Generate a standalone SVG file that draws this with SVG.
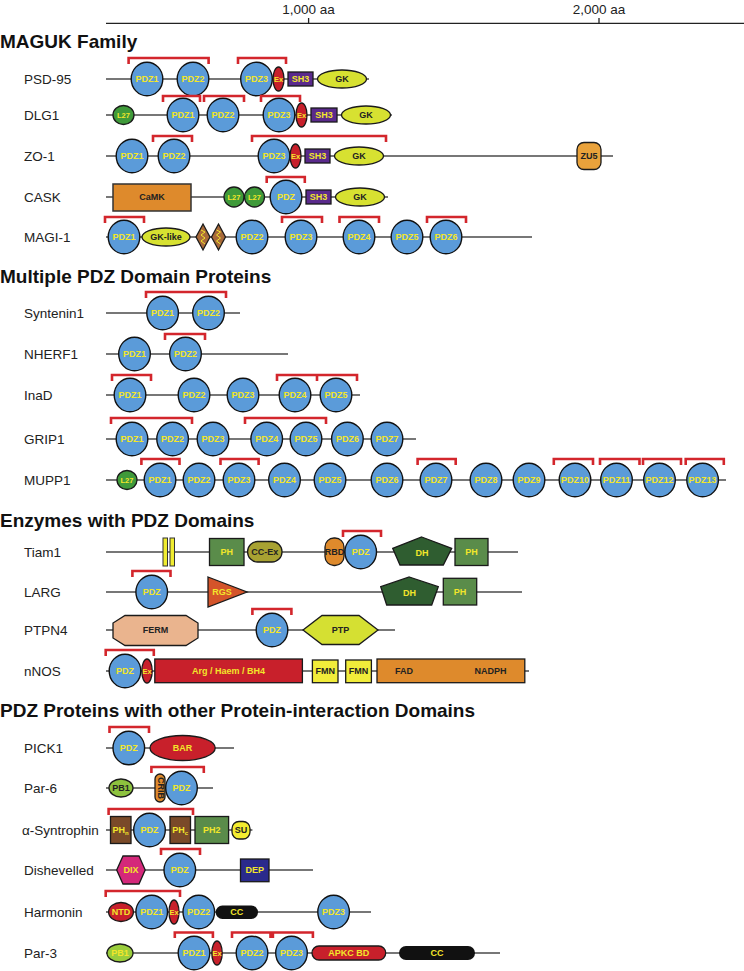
<svg xmlns="http://www.w3.org/2000/svg" width="744" height="971" viewBox="0 0 744 971">
<style>
.bb{stroke:#4a4a4a;stroke-width:1.6;fill:none}
.br{fill:none;stroke:#d3262c;stroke-width:2.6}
.pdz{fill:#5b9bd9;stroke:#111;stroke-width:1.4}
.sk{stroke:#1a1a1a;stroke-width:1.3}
.lbl{font-family:"Liberation Sans",Arial,sans-serif;font-size:13.5px;fill:#222}
.ttl{font-family:"Liberation Sans",Arial,sans-serif;font-size:19px;font-weight:bold;fill:#111}
.ax{font-family:"Liberation Sans",Arial,sans-serif;font-size:13.5px;fill:#222;text-anchor:middle}
.t{font-family:"Liberation Sans",Arial,sans-serif;font-size:9px;font-weight:bold;text-anchor:middle;fill:#f2e62a}
.s{font-size:7.5px}
.k{fill:#222}
.red{fill:#c8202b}
.sh3{fill:#5a2a8c}
.gk{fill:#d7e131}
.l27{fill:#3f9a3a}
.ph{fill:#5a8c4a}
.or{fill:#de8a2c}
</style>

<g id="axis">
<line x1="106" y1="23.3" x2="744" y2="23.3" stroke="#222" stroke-width="1.3"/>
<line x1="308.6" y1="18" x2="308.6" y2="23.3" stroke="#222" stroke-width="1.3"/>
<line x1="599" y1="18" x2="599" y2="23.3" stroke="#222" stroke-width="1.3"/>
<text class="ax" x="308.6" y="13.5">1,000 aa</text>
<text class="ax" x="599" y="13.5">2,000 aa</text>
</g>

<text class="ttl" x="0" y="48">MAGUK Family</text>
<text class="ttl" x="0" y="283">Multiple PDZ Domain Proteins</text>
<text class="ttl" x="0" y="527">Enzymes with PDZ Domains</text>
<text class="ttl" x="0" y="717">PDZ Proteins with other Protein-interaction Domains</text>

<!-- PSD-95 -->
<g id="psd95">
<text class="lbl" x="24" y="84">PSD-95</text>
<line class="bb" x1="106" y1="79" x2="369" y2="79"/>
<path class="br" d="M128.6 64V58H208.6V64M238 64V58H286V64"/>
<ellipse class="pdz" cx="147" cy="79" rx="15.8" ry="16.8"/><text class="t" x="147" y="82.2">PDZ1</text>
<ellipse class="pdz" cx="193" cy="79" rx="15.8" ry="16.8"/><text class="t" x="193" y="82.2">PDZ2</text>
<ellipse class="pdz" cx="256.5" cy="79" rx="15.8" ry="16.8"/><text class="t" x="256.5" y="82.2">PDZ3</text>
<ellipse class="red sk" cx="278.5" cy="79" rx="5.5" ry="12"/><text class="t s" x="278.5" y="81.7">Ex</text>
<rect class="sh3 sk" x="288" y="72" width="25" height="14"/><text class="t" x="300.5" y="82">SH3</text>
<ellipse class="gk sk" cx="342" cy="79" rx="24.5" ry="9"/><text class="t k" x="342" y="82.2">GK</text>
</g>

<!-- DLG1 -->
<g id="dlg1">
<text class="lbl" x="24" y="120">DLG1</text>
<line class="bb" x1="106" y1="115" x2="392" y2="115"/>
<path class="br" d="M163 102V96H200V102M204 102V96H244V102M261 102V96H300V102"/>
<ellipse class="l27 sk" cx="123.5" cy="115" rx="10.5" ry="9.5"/><text class="t s" x="123.5" y="117.7">L27</text>
<ellipse class="pdz" cx="183" cy="115" rx="15.8" ry="16.8"/><text class="t" x="183" y="118.2">PDZ1</text>
<ellipse class="pdz" cx="223" cy="115" rx="15.8" ry="16.8"/><text class="t" x="223" y="118.2">PDZ2</text>
<ellipse class="pdz" cx="279" cy="115" rx="15.8" ry="16.8"/><text class="t" x="279" y="118.2">PDZ3</text>
<ellipse class="red sk" cx="301.5" cy="115" rx="5.5" ry="12"/><text class="t s" x="301.5" y="117.7">Ex</text>
<rect class="sh3 sk" x="311" y="108" width="26" height="14"/><text class="t" x="324" y="118">SH3</text>
<ellipse class="gk sk" cx="366" cy="115" rx="24.5" ry="9"/><text class="t k" x="366" y="118.2">GK</text>
</g>

<!-- ZO-1 -->
<g id="zo1">
<text class="lbl" x="24" y="161">ZO-1</text>
<line class="bb" x1="106" y1="156" x2="613" y2="156"/>
<path class="br" d="M153 142V136H192V142M252 142V136H386V142"/>
<ellipse class="pdz" cx="132" cy="156" rx="15.8" ry="16.8"/><text class="t" x="132" y="159.2">PDZ1</text>
<ellipse class="pdz" cx="174" cy="156" rx="15.8" ry="16.8"/><text class="t" x="174" y="159.2">PDZ2</text>
<ellipse class="pdz" cx="274" cy="156" rx="15.8" ry="16.8"/><text class="t" x="274" y="159.2">PDZ3</text>
<ellipse class="red sk" cx="295.5" cy="156" rx="5.5" ry="12"/><text class="t s" x="295.5" y="158.7">Ex</text>
<rect class="sh3 sk" x="305" y="149" width="25" height="14"/><text class="t" x="317.5" y="159">SH3</text>
<ellipse class="gk sk" cx="359" cy="156" rx="24.5" ry="9"/><text class="t k" x="359" y="159.2">GK</text>
<rect x="577" y="142.5" width="24" height="27" rx="7" fill="#e9a23b" class="sk"/><text class="t k" x="589" y="159" font-size="8">ZU5</text>
</g>

<!-- CASK -->
<g id="cask">
<text class="lbl" x="24" y="202">CASK</text>
<line class="bb" x1="106" y1="197" x2="388" y2="197"/>
<path class="br" d="M266.7 183V177H304.8V183"/>
<rect class="or" x="113" y="184" width="78" height="27" stroke="#333" stroke-width="1.5"/><text class="t k" x="152" y="200.2">CaMK</text>
<ellipse class="l27 sk" cx="234" cy="197" rx="10" ry="10"/><text class="t s" x="234" y="199.7">L27</text>
<ellipse class="l27 sk" cx="254.5" cy="197" rx="10" ry="10"/><text class="t s" x="254.5" y="199.7">L27</text>
<ellipse class="pdz" cx="286" cy="197" rx="15.8" ry="16.8"/><text class="t" x="286" y="200.2">PDZ</text>
<rect class="sh3 sk" x="306" y="190" width="25" height="14"/><text class="t" x="318.5" y="200">SH3</text>
<ellipse class="gk sk" cx="360" cy="197" rx="24.5" ry="9"/><text class="t k" x="360" y="200.2">GK</text>
</g>

<!-- MAGI-1 -->
<g id="magi1">
<text class="lbl" x="24" y="242">MAGI-1</text>
<line class="bb" x1="106" y1="237" x2="532" y2="237"/>
<path class="br" d="M105 223V217H144V223M282 223V217H322V223M339.5 223V217H379V223M427 223V217H466V223"/>
<ellipse class="pdz" cx="124" cy="237" rx="15.8" ry="16.8"/><text class="t" x="124" y="240.2">PDZ1</text>
<ellipse class="gk sk" cx="166" cy="237" rx="24" ry="9"/><text class="t k" x="166" y="240.2">GK-like</text>
<polygon points="203,224 210,237 203,250 196,237" fill="#a86a3a" class="sk"/>
<polyline points="201,230 205,232 201,235 205,238 201,241 205,244" fill="none" stroke="#f2e62a" stroke-width="1"/>
<polygon points="218.5,224 225.5,237 218.5,250 211.5,237" fill="#a86a3a" class="sk"/>
<polyline points="216.5,230 220.5,232 216.5,235 220.5,238 216.5,241 220.5,244" fill="none" stroke="#f2e62a" stroke-width="1"/>
<ellipse class="pdz" cx="252" cy="237" rx="15.8" ry="16.8"/><text class="t" x="252" y="240.2">PDZ2</text>
<ellipse class="pdz" cx="301" cy="237" rx="15.8" ry="16.8"/><text class="t" x="301" y="240.2">PDZ3</text>
<ellipse class="pdz" cx="359" cy="237" rx="15.8" ry="16.8"/><text class="t" x="359" y="240.2">PDZ4</text>
<ellipse class="pdz" cx="407" cy="237" rx="15.8" ry="16.8"/><text class="t" x="407" y="240.2">PDZ5</text>
<ellipse class="pdz" cx="446" cy="237" rx="15.8" ry="16.8"/><text class="t" x="446" y="240.2">PDZ6</text>
</g>

<!-- Syntenin1 -->
<g id="syntenin1">
<text class="lbl" x="24" y="318">Syntenin1</text>
<line class="bb" x1="106" y1="313" x2="240" y2="313"/>
<path class="br" d="M146 298V292H226V298"/>
<ellipse class="pdz" cx="162.6" cy="313" rx="15.8" ry="16.8"/><text class="t" x="162.6" y="316.2">PDZ1</text>
<ellipse class="pdz" cx="208.5" cy="313" rx="15.8" ry="16.8"/><text class="t" x="208.5" y="316.2">PDZ2</text>
</g>

<!-- NHERF1 -->
<g id="nherf1">
<text class="lbl" x="24" y="359">NHERF1</text>
<line class="bb" x1="106" y1="354" x2="288" y2="354" stroke="#111"/>
<path class="br" d="M165 340V334H205V340"/>
<ellipse class="pdz" cx="134.5" cy="354" rx="15.8" ry="16.8"/><text class="t" x="134.5" y="357.2">PDZ1</text>
<ellipse class="pdz" cx="185.5" cy="354" rx="15.8" ry="16.8"/><text class="t" x="185.5" y="357.2">PDZ2</text>
</g>

<!-- InaD -->
<g id="inad">
<text class="lbl" x="24" y="400">InaD</text>
<line class="bb" x1="106" y1="395" x2="360" y2="395"/>
<path class="br" d="M112 381V375H151V381M277 381V375H317V381M317 375H357V381"/>
<ellipse class="pdz" cx="130" cy="395" rx="15.8" ry="16.8"/><text class="t" x="130" y="398.2">PDZ1</text>
<ellipse class="pdz" cx="194" cy="395" rx="15.8" ry="16.8"/><text class="t" x="194" y="398.2">PDZ2</text>
<ellipse class="pdz" cx="243" cy="395" rx="15.8" ry="16.8"/><text class="t" x="243" y="398.2">PDZ3</text>
<ellipse class="pdz" cx="295" cy="395" rx="15.8" ry="16.8"/><text class="t" x="295" y="398.2">PDZ4</text>
<ellipse class="pdz" cx="336" cy="395" rx="15.8" ry="16.8"/><text class="t" x="336" y="398.2">PDZ5</text>
</g>

<!-- GRIP1 -->
<g id="grip1">
<text class="lbl" x="24" y="444">GRIP1</text>
<line class="bb" x1="106" y1="439" x2="416" y2="439"/>
<path class="br" d="M111 424V418H192V424M245 424V418H326V424"/>
<ellipse class="pdz" cx="132" cy="439" rx="15.8" ry="16.8"/><text class="t" x="132" y="442.2">PDZ1</text>
<ellipse class="pdz" cx="172.6" cy="439" rx="15.8" ry="16.8"/><text class="t" x="172.6" y="442.2">PDZ2</text>
<ellipse class="pdz" cx="213" cy="439" rx="15.8" ry="16.8"/><text class="t" x="213" y="442.2">PDZ3</text>
<ellipse class="pdz" cx="266.7" cy="439" rx="15.8" ry="16.8"/><text class="t" x="266.7" y="442.2">PDZ4</text>
<ellipse class="pdz" cx="306" cy="439" rx="15.8" ry="16.8"/><text class="t" x="306" y="442.2">PDZ5</text>
<ellipse class="pdz" cx="347.4" cy="439" rx="15.8" ry="16.8"/><text class="t" x="347.4" y="442.2">PDZ6</text>
<ellipse class="pdz" cx="387" cy="439" rx="15.8" ry="16.8"/><text class="t" x="387" y="442.2">PDZ7</text>
</g>

<!-- MUPP1 -->
<g id="mupp1">
<text class="lbl" x="24" y="485">MUPP1</text>
<line class="bb" x1="106" y1="480" x2="726" y2="480"/>
<path class="br" d="M141.4 465V459H179.5V465M220.5 465V459H258.6V465M417.6 465V459H455.7V465M553.8 465V459H593V465M600 465V459H639.5V465M643 465V459H681V465M685.7 465V459H723.8V465"/>
<ellipse class="l27 sk" cx="127" cy="480" rx="10" ry="9.5"/><text class="t s" x="127" y="482.7">L27</text>
<ellipse class="pdz" cx="160" cy="480" rx="15.8" ry="16.8"/><text class="t" x="160" y="483.2">PDZ1</text>
<ellipse class="pdz" cx="199" cy="480" rx="15.8" ry="16.8"/><text class="t" x="199" y="483.2">PDZ2</text>
<ellipse class="pdz" cx="239" cy="480" rx="15.8" ry="16.8"/><text class="t" x="239" y="483.2">PDZ3</text>
<ellipse class="pdz" cx="284.5" cy="480" rx="15.8" ry="16.8"/><text class="t" x="284.5" y="483.2">PDZ4</text>
<ellipse class="pdz" cx="330" cy="480" rx="15.8" ry="16.8"/><text class="t" x="330" y="483.2">PDZ5</text>
<ellipse class="pdz" cx="387" cy="480" rx="15.8" ry="16.8"/><text class="t" x="387" y="483.2">PDZ6</text>
<ellipse class="pdz" cx="436" cy="480" rx="15.8" ry="16.8"/><text class="t" x="436" y="483.2">PDZ7</text>
<ellipse class="pdz" cx="486" cy="480" rx="15.8" ry="16.8"/><text class="t" x="486" y="483.2">PDZ8</text>
<ellipse class="pdz" cx="529" cy="480" rx="15.8" ry="16.8"/><text class="t" x="529" y="483.2">PDZ9</text>
<ellipse class="pdz" cx="575" cy="480" rx="15.8" ry="16.8"/><text class="t" x="575" y="483" font-size="8.3">PDZ10</text>
<ellipse class="pdz" cx="616.5" cy="480" rx="15.8" ry="16.8"/><text class="t" x="616.5" y="483" font-size="8.3">PDZ11</text>
<ellipse class="pdz" cx="659.5" cy="480" rx="15.8" ry="16.8"/><text class="t" x="659.5" y="483" font-size="8.3">PDZ12</text>
<ellipse class="pdz" cx="702.6" cy="480" rx="15.8" ry="16.8"/><text class="t" x="702.6" y="483" font-size="8.3">PDZ13</text>
</g>

<!-- Tiam1 -->
<g id="tiam1">
<text class="lbl" x="24" y="557">Tiam1</text>
<line class="bb" x1="106" y1="552" x2="518" y2="552"/>
<path class="br" d="M343 537V531H381V537"/>
<rect x="163" y="538" width="4.5" height="28" fill="#f0ec30" stroke="#333" stroke-width="1"/>
<rect x="170" y="538" width="4.5" height="28" fill="#f0ec30" stroke="#333" stroke-width="1"/>
<rect class="ph sk" x="209.5" y="538.5" width="34.5" height="27"/><text class="t" x="226.7" y="555">PH</text>
<rect x="247.6" y="541.5" width="34.4" height="20.5" rx="10" fill="#a8a232" class="sk"/><text class="t k" x="264.8" y="555">CC-Ex</text>
<rect class="or sk" x="325" y="538" width="19" height="27.5" rx="9"/><text class="t k" x="334.5" y="554.6" font-size="7">RBD</text>
<ellipse class="pdz" cx="360.7" cy="552" rx="15.8" ry="16.8"/><text class="t" x="360.7" y="555.2">PDZ</text>
<polygon points="421.7,537 451.7,548.3 443.3,565 400,565 392.7,548.3" fill="#2f5d30" class="sk"/><text class="t" x="422" y="556">DH</text>
<rect class="ph sk" x="455" y="538.5" width="33" height="27"/><text class="t" x="471.5" y="555">PH</text>
</g>

<!-- LARG -->
<g id="larg">
<text class="lbl" x="24" y="597">LARG</text>
<line class="bb" x1="106" y1="592" x2="522" y2="592"/>
<path class="br" d="M132.4 577V571H170.5V577"/>
<ellipse class="pdz" cx="151.7" cy="592" rx="15.8" ry="16.8"/><text class="t" x="151.7" y="595.2">PDZ</text>
<polygon points="208,577 247,592 208,607" fill="#d4542a" class="sk"/><text class="t" x="222" y="595.2">RGS</text>
<polygon points="409.3,577 438.3,586.7 431.7,605 386.7,605 380.7,586.7" fill="#2f5d30" class="sk"/><text class="t" x="409.5" y="595.5">DH</text>
<rect class="ph sk" x="443.3" y="578.3" width="33.4" height="26.7"/><text class="t" x="460" y="595">PH</text>
</g>

<!-- PTPN4 -->
<g id="ptpn4">
<text class="lbl" x="24" y="635">PTPN4</text>
<line class="bb" x1="106" y1="630" x2="395" y2="630"/>
<path class="br" d="M252.4 615V609H291.4V615"/>
<polygon points="125,615.5 186,615.5 198,623 198,638 186,645.5 125,645.5 113,638 113,623" fill="#eab48e" class="sk"/><text class="t k" x="155.5" y="633.2">FERM</text>
<ellipse class="pdz" cx="272" cy="630" rx="15.8" ry="16.8"/><text class="t" x="272" y="633.2">PDZ</text>
<polygon points="303,630 322,615.5 359,615.5 378,630 359,644.5 322,644.5" fill="#d5e032" class="sk"/><text class="t k" x="340.5" y="633.2">PTP</text>
</g>

<!-- nNOS -->
<g id="nnos">
<text class="lbl" x="24" y="676">nNOS</text>
<line class="bb" x1="106" y1="671" x2="529" y2="671"/>
<path class="br" d="M105.7 656V650H153.8V656"/>
<ellipse class="pdz" cx="125" cy="671" rx="15.8" ry="16.8"/><text class="t" x="125" y="674.2">PDZ</text>
<ellipse class="red sk" cx="147" cy="671" rx="5.2" ry="12"/><text class="t s" x="147" y="673.7">Ex</text>
<rect class="red sk" x="154.8" y="659" width="147.6" height="23.7"/><text class="t" x="228.6" y="674" font-size="8">Arg / Haem / BH4</text>
<rect x="312.4" y="660" width="25.6" height="22.7" fill="#f1ec3a" class="sk"/><text class="t k" x="325.2" y="674" font-size="7.5">FMN</text>
<rect x="345.7" y="660" width="25.7" height="22.7" fill="#f1ec3a" class="sk"/><text class="t k" x="358.5" y="674" font-size="7.5">FMN</text>
<rect class="or sk" x="377" y="659" width="147.8" height="23.7"/><text class="t k" x="404" y="674" font-size="8">FAD</text><text class="t k" x="490.5" y="674" font-size="8">NADPH</text>
</g>

<!-- PICK1 -->
<g id="pick1">
<text class="lbl" x="24" y="753">PICK1</text>
<line class="bb" x1="106" y1="748" x2="234" y2="748"/>
<path class="br" d="M109.5 733V727H149V733"/>
<ellipse class="pdz" cx="128.8" cy="748" rx="15.8" ry="16.8"/><text class="t" x="128.8" y="751.2">PDZ</text>
<ellipse class="red sk" cx="182.6" cy="748" rx="32.6" ry="12.5"/><text class="t" x="182.6" y="751.2">BAR</text>
</g>

<!-- Par-6 -->
<g id="par6">
<text class="lbl" x="24" y="793">Par-6</text>
<line class="bb" x1="106" y1="788" x2="213" y2="788"/>
<path class="br" d="M151.4 773V767H203.8V773"/>
<ellipse cx="121" cy="788" rx="12" ry="9" fill="#8dc23e" class="sk"/><text class="t k" x="121" y="791" font-size="8">PB1</text>
<rect class="or sk" x="155" y="774" width="10" height="28" rx="5"/><text class="t k" font-size="6.5" transform="translate(157.7 788) rotate(90)">CRIB</text>
<ellipse class="pdz" cx="181.5" cy="788" rx="15.8" ry="16.8"/><text class="t" x="181.5" y="791.2">PDZ</text>
</g>

<!-- alpha-Syntrophin -->
<g id="asyntrophin">
<text class="lbl" x="22" y="835">α-Syntrophin</text>
<line class="bb" x1="106" y1="830" x2="252.4" y2="830"/>
<path class="br" d="M108.6 815V809H193V815"/>
<rect x="110.5" y="816.5" width="20.5" height="27" fill="#7a4a29" class="sk"/><text class="t" x="120.7" y="833.2">PH<tspan font-size="6" dy="2">n</tspan></text>
<ellipse class="pdz" cx="149.5" cy="830" rx="15.8" ry="16.8"/><text class="t" x="149.5" y="833.2">PDZ</text>
<rect x="170" y="816.5" width="20.5" height="27" fill="#7a4a29" class="sk"/><text class="t" x="180.2" y="833.2">PH<tspan font-size="6" dy="2">c</tspan></text>
<rect class="ph sk" x="195" y="816.5" width="33.6" height="27"/><text class="t" x="211.8" y="833.2">PH2</text>
<rect x="232" y="821.5" width="18" height="17.5" rx="7" fill="#f3ec30" class="sk"/><text class="t k" x="241" y="833" font-size="8">SU</text>
</g>

<!-- Dishevelled -->
<g id="dishevelled">
<text class="lbl" x="24" y="875">Dishevelled</text>
<line class="bb" x1="106" y1="870" x2="313" y2="870" stroke="#111"/>
<path class="br" d="M161 855V849H200V855"/>
<polygon points="116.7,870 123,856 139,856 145.2,870 139,884 123,884" fill="#d4287a" class="sk"/><text class="t" x="131" y="873.2">DIX</text>
<ellipse class="pdz" cx="179.8" cy="870" rx="15.8" ry="16.8"/><text class="t" x="179.8" y="873.2">PDZ</text>
<rect x="240.5" y="859" width="28.5" height="22.7" fill="#2a2a8c" class="sk"/><text class="t" x="254.7" y="873.2">DEP</text>
</g>

<!-- Harmonin -->
<g id="harmonin">
<text class="lbl" x="24" y="917">Harmonin</text>
<line class="bb" x1="106" y1="912" x2="371" y2="912" stroke="#111"/>
<path class="br" d="M105.7 897V891H180V897"/>
<ellipse class="red sk" cx="121" cy="912" rx="12.4" ry="9.5"/><text class="t" x="121" y="915" font-size="8">NTD</text>
<ellipse class="pdz" cx="151.7" cy="912" rx="15.8" ry="16.8"/><text class="t" x="151.7" y="915.2">PDZ1</text>
<ellipse class="red sk" cx="174" cy="912" rx="5" ry="12"/><text class="t s" x="174" y="914.7">Ex</text>
<ellipse class="pdz" cx="198.8" cy="912" rx="15.8" ry="16.8"/><text class="t" x="198.8" y="915.2">PDZ2</text>
<rect x="215.7" y="905.5" width="42.3" height="13.5" rx="6.7" fill="#111"/><text class="t" x="236.8" y="915.2">CC</text>
<ellipse class="pdz" cx="333.6" cy="912" rx="15.8" ry="16.8"/><text class="t" x="333.6" y="915.2">PDZ3</text>
</g>

<!-- Par-3 -->
<g id="par3">
<text class="lbl" x="24" y="958">Par-3</text>
<line class="bb" x1="106" y1="953" x2="500" y2="953" stroke="#111"/>
<path class="br" d="M174.8 938V932.5H212.9V938M232 938V932.5H270.5V938M272.9 938V932.5H312.9V938"/>
<ellipse cx="120" cy="953" rx="13" ry="9" fill="#9acd3c" class="sk"/><text class="t" x="120" y="956" font-size="8">PB1</text>
<ellipse class="pdz" cx="194" cy="953" rx="15.8" ry="16.8"/><text class="t" x="194" y="956.2">PDZ1</text>
<ellipse class="red sk" cx="217" cy="953" rx="5.2" ry="12"/><text class="t s" x="217" y="955.7">Ex</text>
<ellipse class="pdz" cx="252" cy="953" rx="15.8" ry="16.8"/><text class="t" x="252" y="956.2">PDZ2</text>
<ellipse class="pdz" cx="291.5" cy="953" rx="15.8" ry="16.8"/><text class="t" x="291.5" y="956.2">PDZ3</text>
<rect class="red sk" x="312" y="946" width="73.7" height="14" rx="7"/><text class="t" x="348.8" y="956.2">APKC BD</text>
<rect x="399" y="946" width="76" height="14" rx="7" fill="#111"/><text class="t" x="437" y="956.2">CC</text>
</g>
</svg>
